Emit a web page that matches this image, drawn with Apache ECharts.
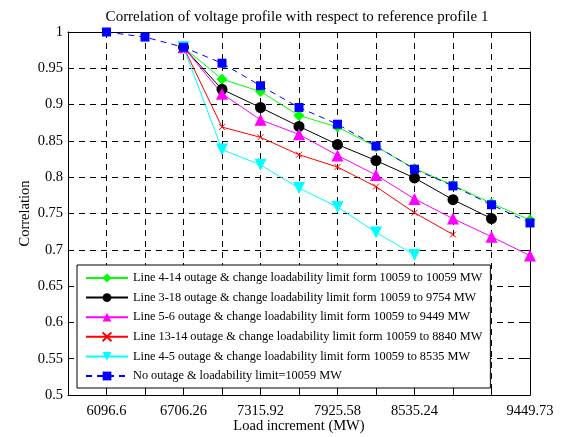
<!DOCTYPE html>
<html>
<head>
<meta charset="utf-8">
<script src="https://cdn.jsdelivr.net/npm/echarts@6/dist/echarts.min.js"></script>
<style>
  html, body { margin: 0; padding: 0; background: #fff; }
  #chart { width: 562px; height: 437px; }
</style>
</head>
<body>
<div id="chart"></div>
<script>
// Load steps (MW): one tick per step, labels only on some of them
var loadSteps = [6096.6, 6401.43, 6706.26, 7011.09, 7315.92, 7620.75, 7925.58, 8230.41, 8535.24, 8840.07, 9144.9, 9449.73];
var labeledTicks = [6096.6, 6706.26, 7315.92, 7925.58, 8535.24, 9449.73];
var xMin = 5791.77;
var xStep = 304.83;

// Correlation values per case (outage cases start at 6706.26 MW)
var line4_14 = [null, null, 0.979, 0.935, 0.918, 0.885, 0.869, 0.842, 0.812, 0.789, 0.764, 0.741];
var line3_18 = [null, null, 0.979, 0.921, 0.896, 0.870, 0.845, 0.823, 0.799, 0.769, 0.743, null];
var line5_6  = [null, null, 0.979, 0.915, 0.879, 0.859, 0.830, 0.803, 0.770, 0.743, 0.718, 0.692];
var line13_14 = [null, null, 0.979, 0.869, 0.855, 0.831, 0.814, 0.787, 0.751, 0.721, null, null];
var line4_5  = [null, null, 0.979, 0.838, 0.817, 0.785, 0.759, 0.724, 0.693, null, null, null];
var noOutage = [1.0, 0.993, 0.979, 0.957, 0.926, 0.896, 0.873, 0.843, 0.811, 0.788, 0.762, 0.737];

var names = [
  'Line 4-14 outage & change loadability limit form 10059 to 10059 MW',
  'Line 3-18 outage & change loadability limit form 10059 to 9754 MW',
  'Line 5-6 outage & change loadability limit form 10059 to 9449 MW',
  'Line 13-14 outage & change loadability limit form 10059 to 8840 MW',
  'Line 4-5 outage & change loadability limit form 10059 to 8535 MW',
  'No outage & loadability limit=10059 MW'
];

function pairs(vals) {
  var out = [];
  for (var i = 0; i < loadSteps.length; i++) {
    if (vals[i] !== null) out.push([loadSteps[i], vals[i]]);
  }
  return out;
}

var FONT = 'Liberation Serif';
var gridDash = { color: '#000', width: 1, type: [6, 5] };

function mk(name, vals, color, symbol, size, extra) {
  var s = {
    name: name,
    type: 'line',
    data: pairs(vals),
    symbol: symbol,
    symbolSize: size,
    showAllSymbol: true,
    animation: false,
    lineStyle: { color: color, width: 1 },
    itemStyle: { color: color, borderColor: color, borderWidth: 0 }
  };
  if (extra) for (var k in extra) s[k] = extra[k];
  return s;
}

var chart = echarts.init(document.getElementById('chart'), null, { renderer: 'canvas' });

chart.setOption({
  animation: false,
  backgroundColor: '#fff',
  title: {
    text: 'Correlation of voltage profile with respect to reference profile 1',
    left: 292, top: 5, textAlign: 'center',
    textStyle: { fontFamily: FONT, fontSize: 15, fontWeight: 'normal', color: '#000' }
  },
  grid: { left: 68, right: 32, top: 32, bottom: 42, outerBoundsMode: 'none', containLabel: false },
  legend: {
    orient: 'vertical',
    left: 77, top: 265,
    padding: [7, 8, 6, 8],
    itemWidth: 42, itemHeight: 11, itemGap: 7.6,
    backgroundColor: '#fff',
    borderColor: '#000', borderWidth: 1, borderRadius: 0,
    textStyle: { fontFamily: FONT, fontSize: 12.3, color: '#000' },
    data: names
  },
  xAxis: [{
    type: 'value',
    min: xMin, max: 9449.73, interval: xStep,
    name: 'Load increment (MW)', nameLocation: 'middle', nameGap: 24, nameMoveOverlap: false,
    nameTextStyle: { fontFamily: FONT, fontSize: 14.5, color: '#000' },
    axisLine: { show: true, onZero: false, lineStyle: { color: '#000', width: 1 } },
    axisTick: { show: true, inside: true, length: 5, lineStyle: { color: '#000' } },
    axisLabel: {
      fontFamily: FONT, fontSize: 14.5, color: '#000', margin: 9,
      showMinLabel: true, showMaxLabel: true, hideOverlap: false,
      formatter: function (v) {
        for (var i = 0; i < labeledTicks.length; i++) {
          if (Math.abs(v - labeledTicks[i]) < 0.01) return String(labeledTicks[i]);
        }
        return '';
      }
    },
    splitLine: { show: true, lineStyle: gridDash }
  }, {
    type: 'value', position: 'top',
    min: xMin, max: 9449.73, interval: xStep,
    axisLine: { show: true, onZero: false, lineStyle: { color: '#000', width: 1 } },
    axisTick: { show: true, inside: true, length: 5, lineStyle: { color: '#000' } },
    axisLabel: { show: false },
    splitLine: { show: false }
  }],
  yAxis: [{
    type: 'value',
    min: 0.5, max: 1, interval: 0.05,
    name: 'Correlation', nameLocation: 'middle', nameGap: 35, nameRotate: 90, nameMoveOverlap: false,
    nameTextStyle: { fontFamily: FONT, fontSize: 14.5, color: '#000' },
    axisLine: { show: true, onZero: false, lineStyle: { color: '#000', width: 1 } },
    axisTick: { show: true, inside: true, length: 5, lineStyle: { color: '#000' } },
    axisLabel: { fontFamily: FONT, fontSize: 14.5, color: '#000', margin: 5 },
    splitLine: { show: true, lineStyle: gridDash }
  }, {
    type: 'value', position: 'right',
    min: 0.5, max: 1, interval: 0.05,
    axisLine: { show: true, onZero: false, lineStyle: { color: '#000', width: 1 } },
    axisTick: { show: true, inside: true, length: 5, lineStyle: { color: '#000' } },
    axisLabel: { show: false },
    splitLine: { show: false }
  }],
  series: [
    mk(names[0], line4_14, '#00ff00', 'diamond', 11),
    mk(names[1], line3_18, '#000000', 'circle', 11),
    mk(names[2], line5_6, '#ff00ff', 'triangle', 12),
    mk(names[3], line13_14, '#ff0000', 'path://M0,0L10,10M10,0L0,10', 6,
       { itemStyle: { color: 'rgba(0,0,0,0)', borderColor: '#ff0000', borderWidth: 1 } }),
    mk(names[4], line4_5, '#00ffff', 'triangle', 12, { symbolRotate: 180 }),
    mk(names[5], noOutage, '#0000ff', 'rect', 9,
       { lineStyle: { color: '#0000ff', width: 1, type: [6, 5] } })
  ]
});
</script>
</body>
</html>
